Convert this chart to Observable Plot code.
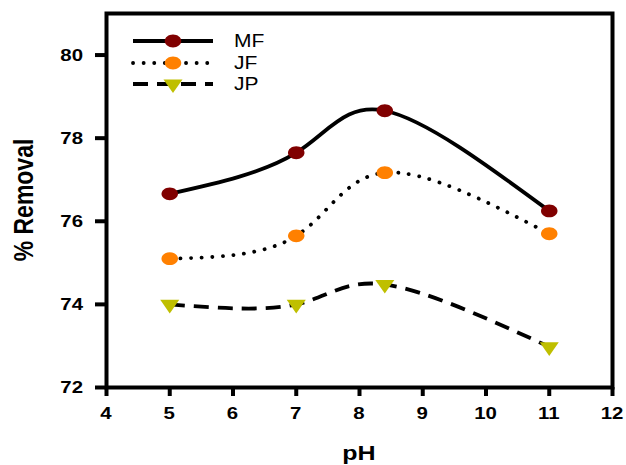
<!DOCTYPE html>
<html>
<head>
<meta charset="utf-8">
<script src="https://cdn.jsdelivr.net/npm/d3@7"></script>
<script src="https://cdn.jsdelivr.net/npm/@observablehq/plot@0.6"></script>
<style>
  html, body { margin: 0; padding: 0; background: #fff; }
  #wrap { position: relative; width: 626px; height: 465px; font-family: "Liberation Sans", Arial, sans-serif; }
  .lrow { position: absolute; left: 130px; height: 20px; display: flex; align-items: center; }
  .lrow svg { display: block; }
  .lrow span { display: inline-block; font-size: 17.5px; margin-left: 19px; color: #000; transform: scaleX(1.2); transform-origin: left center; line-height: 20px; }
</style>
</head>
<body>
<div id="wrap"></div>
<script>
const pH = [5, 7, 8.4, 11];
const seriesNames = ["MF", "JF", "JP"];
const MF = [76.66, 77.65, 78.66, 76.25];
const JF = [75.1, 75.65, 77.17, 75.7];
const JP = [74.0, 74.0, 74.48, 72.98];
const colors = ["#800000", "#FF8000", "#BFBF00"];
const dashes = ["none", "0.1 10.5", "15 9"];
const xTicks = [4, 5, 6, 7, 8, 9, 10, 11, 12];
const yTicks = [72, 74, 76, 78, 80];
const xTitle = "pH";
const yTitle = "% Removal";

const values = [MF, JF, JP];
const data = seriesNames.flatMap((s, i) => pH.map((x, j) => ({series: s, pH: x, v: values[i][j]})));

const font = '"Liberation Sans", Arial, sans-serif';

// custom marker shapes (slightly wide, as in the reference)
const K = 0.5523;
const ellipse = {draw(ctx, size) {
  const r = Math.sqrt(size / Math.PI), rx = r * 1.18, ry = r * 0.92;
  ctx.moveTo(rx, 0);
  ctx.bezierCurveTo(rx, ry * K, rx * K, ry, 0, ry);
  ctx.bezierCurveTo(-rx * K, ry, -rx, ry * K, -rx, 0);
  ctx.bezierCurveTo(-rx, -ry * K, -rx * K, -ry, 0, -ry);
  ctx.bezierCurveTo(rx * K, -ry, rx, -ry * K, rx, 0);
  ctx.closePath();
}};
const triDown = {draw(ctx, size) {
  const r = Math.sqrt(size / Math.PI), hw = r * 1.36, h = r * 1.95;
  ctx.moveTo(-hw, -h / 3);
  ctx.lineTo(hw, -h / 3);
  ctx.lineTo(0, 2 * h / 3);
  ctx.closePath();
}};
const shapes = [ellipse, ellipse, triDown];

const marks = [];
seriesNames.forEach((s, i) => {
  const d = data.filter(r => r.series === s);
  marks.push(Plot.line(d, {x: "pH", y: "v", curve: "natural", stroke: "#000", strokeWidth: 3.8,
    strokeDasharray: dashes[i], strokeLinecap: i === 1 ? "round" : "butt"}));
});
seriesNames.forEach((s, i) => {
  const d = data.filter(r => r.series === s);
  marks.push(Plot.dot(d, {x: "pH", y: "v", r: 7, symbol: shapes[i], fill: colors[i], stroke: "none"}));
});

const chart = Plot.plot({
  width: 626,
  height: 465,
  marginLeft: 106,
  marginRight: 14,
  marginTop: 13,
  marginBottom: 78,
  style: {fontFamily: font, background: "#fff", overflow: "visible", color: "#000"},
  x: {domain: [4, 12]},
  y: {domain: [72, 81]},
  marks: [
    Plot.axisX({ticks: xTicks, tickSize: 9, strokeWidth: 4, stroke: "#000", tickFormat: () => "", label: null}),
    Plot.axisY({ticks: yTicks, tickSize: 11, strokeWidth: 4, stroke: "#000", tickFormat: () => "", label: null}),
    ...marks,
    Plot.frame({stroke: "#000", strokeWidth: 4})
  ]
});

// Tick labels and titles placed with Plot's own scales (text slightly widened like the reference)
const sx = chart.scale("x"), sy = chart.scale("y");
const svgSel = d3.select(chart);
const gLab = svgSel.append("g").attr("font-family", font).attr("font-weight", "bold").attr("fill", "#000");
const yBottom = sy.apply(72), xLeft = sx.apply(4), xRight = sx.apply(12), yTop = sy.apply(81);
gLab.selectAll("text.xt").data(xTicks).join("text").attr("class", "xt")
  .attr("text-anchor", "middle").attr("font-size", 17)
  .attr("transform", d => `translate(${sx.apply(d)},${yBottom + 32}) scale(1.2,1)`)
  .text(d => d);
gLab.selectAll("text.yt").data(yTicks).join("text").attr("class", "yt")
  .attr("text-anchor", "end").attr("font-size", 17)
  .attr("transform", d => `translate(${xLeft - 23},${sy.apply(d) + 6}) scale(1.2,1)`)
  .text(d => d);
gLab.append("text").attr("text-anchor", "middle").attr("font-size", 20)
  .attr("transform", `translate(${(xLeft + xRight) / 2},${yBottom + 73}) scale(1.25,1)`)
  .text(xTitle);
gLab.append("text").attr("text-anchor", "middle").attr("font-size", 23)
  .attr("transform", `translate(${xLeft - 73},${(yTop + yBottom) / 2}) rotate(-90) scale(1,1.2)`)
  .text(yTitle);

document.getElementById("wrap").appendChild(chart);

// legend (inside plot area, top-left)
const wrap = document.getElementById("wrap");
const rowCenters = [41, 62.5, 84];
seriesNames.forEach((s, i) => {
  const row = document.createElement("div");
  row.className = "lrow";
  row.style.top = (rowCenters[i] - 10) + "px";
  const svg = d3.create("svg").attr("width", 85).attr("height", 20).style("overflow", "visible");
  svg.append("line").attr("x1", 3).attr("x2", 83).attr("y1", 10).attr("y2", 10)
    .attr("stroke", "#000").attr("stroke-width", 3.8)
    .attr("stroke-dasharray", dashes[i]).attr("stroke-linecap", i === 1 ? "round" : "butt");
  const p = d3.path();
  shapes[i].draw(p, Math.PI * 49);
  svg.append("path").attr("d", p.toString()).attr("transform", "translate(43,10)").attr("fill", colors[i]);
  row.appendChild(svg.node());
  const sp = document.createElement("span");
  sp.textContent = s;
  row.appendChild(sp);
  wrap.appendChild(row);
});
</script>
</body>
</html>
